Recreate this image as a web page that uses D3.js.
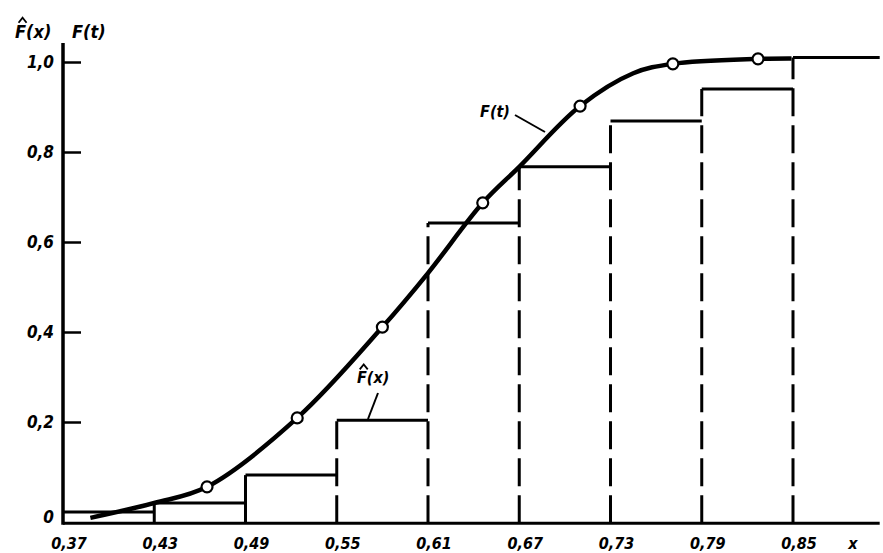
<!DOCTYPE html>
<html>
<head>
<meta charset="utf-8">
<script src="https://cdn.jsdelivr.net/npm/d3@7"></script>
<style>
  body { margin: 0; background: #fff; }
  svg text { font-family: "DejaVu Sans Condensed", "DejaVu Sans", sans-serif; font-weight: bold; font-style: italic; fill: #000; }
</style>
</head>
<body>
<svg width="883" height="553"></svg>
<script>
// interval edges of the empirical distribution (x axis ticks)
const edges = [0.37, 0.43, 0.49, 0.55, 0.61, 0.67, 0.73, 0.79, 0.85];
// F^(x) level on each interval, last one continues past 0.85
const stepLevels = [0.0, 0.02, 0.082, 0.204, 0.642, 0.767, 0.869, 0.94, 1.01];
// y ticks
const yTicks = [0, 0.2, 0.4, 0.6, 0.8, 1.0];

// smooth F(t) curve
const curveX = [0.388, 0.43, 0.4647, 0.524, 0.58, 0.61, 0.646, 0.67, 0.71, 0.745, 0.771, 0.827, 0.849];
const curveF = [-0.013, 0.02, 0.056, 0.209, 0.411, 0.531, 0.687, 0.767, 0.902, 0.975, 0.996, 1.007, 1.008];
// points marked with circles
const markX = [0.4647, 0.524, 0.58, 0.646, 0.71, 0.771, 0.827];
const markF = [0.056, 0.209, 0.411, 0.687, 0.902, 0.996, 1.007];

const xEnd = 0.907;     // right end of x axis
const baseF = -0.025;   // x axis sits a little under zero
const topF = 1.042;     // top of y axis

const svg = d3.select('svg');

const x = d3.scaleLinear().domain([0.37, 0.85]).range([63, 793]);
const y = d3.scaleLinear().domain([0, 1]).range([512, 62]);

const comma = f => s => f(s).replace('.', ',');

// axes lines
svg.append('line')
  .attr('x1', x(0.37)).attr('x2', x(0.37))
  .attr('y1', y(topF)).attr('y2', y(baseF) + 1.5)
  .attr('stroke', '#000').attr('stroke-width', 3.5);
svg.append('line')
  .attr('x1', x(0.37)).attr('x2', x(xEnd))
  .attr('y1', y(baseF)).attr('y2', y(baseF))
  .attr('stroke', '#000').attr('stroke-width', 3);

// y ticks point inward
const yAxis = svg.append('g')
  .attr('transform', `translate(${x(0.37)},0)`)
  .call(d3.axisRight(y).tickValues(yTicks.filter(d => d > 0)).tickSize(18).tickFormat(''));
yAxis.select('.domain').remove();
yAxis.selectAll('line').attr('stroke', '#000').attr('stroke-width', 2.5);

// y labels
const fmtY = comma(d3.format('.1f'));
svg.selectAll('.ylab').data(yTicks).join('text')
  .attr('class', 'ylab')
  .attr('x', 54)
  .attr('y', d => y(d) + (d === 0 ? 5 : 0))
  .attr('dy', '0.36em')
  .attr('text-anchor', 'end')
  .attr('font-size', 17)
  .text(d => d === 0 ? '0' : fmtY(d));

// x labels
const fmtX = comma(d3.format('.2f'));
svg.selectAll('.xlab').data(edges).join('text')
  .attr('class', 'xlab')
  .attr('x', d => x(d) + 6)
  .attr('y', 544)
  .attr('dy', '0.32em')
  .attr('text-anchor', 'middle')
  .attr('font-size', 16)
  .text(fmtX);
svg.append('text').attr('x', 853).attr('y', 544).attr('dy', '0.32em')
  .attr('text-anchor', 'middle').attr('font-size', 16).text('x');

// step function: horizontals
const nextEdge = i => i + 1 < edges.length ? edges[i + 1] : xEnd;
svg.selectAll('.stepH').data(stepLevels).join('line')
  .attr('class', 'stepH')
  .attr('x1', (d, i) => x(edges[i]))
  .attr('x2', (d, i) => x(nextEdge(i)))
  .attr('y1', d => y(d)).attr('y2', d => y(d))
  .attr('stroke', '#000').attr('stroke-width', 3);

// step function: verticals from axis up to the level, dashed from 0.55 on
svg.selectAll('.stepV').data(edges.slice(1)).join('line')
  .attr('class', 'stepV')
  .attr('x1', d => x(d)).attr('x2', d => x(d))
  .attr('y1', y(baseF))
  .attr('y2', (d, i) => y(stepLevels[i + 1]))
  .attr('stroke', '#000').attr('stroke-width', 3)
  .attr('stroke-dasharray', d => d >= 0.55 ? '28,9' : null);

// F(t) curve
const curveData = curveX.map((v, i) => [v, curveF[i]]);
svg.append('path')
  .datum(curveData)
  .attr('fill', 'none').attr('stroke', '#000').attr('stroke-width', 4.5)
  .attr('d', d3.line().x(d => x(d[0])).y(d => y(d[1])).curve(d3.curveCatmullRom.alpha(0.5)));

svg.selectAll('.mark').data(markX).join('circle')
  .attr('class', 'mark')
  .attr('cx', d => x(d))
  .attr('cy', (d, i) => y(markF[i]))
  .attr('r', 5.5)
  .attr('fill', '#fff').attr('stroke', '#000').attr('stroke-width', 2.2);

// annotations; the hat over F is a small drawn chevron
function hatLabel(lx, ly, txt, size) {
  svg.append('text').attr('x', lx).attr('y', ly).attr('font-size', size).text(txt);
  const hx = lx + size * 0.42, hy = ly - size * 0.85;
  svg.append('path')
    .attr('d', `M${hx - 4},${hy} L${hx},${hy - 5} L${hx + 4},${hy}`)
    .attr('fill', 'none').attr('stroke', '#000').attr('stroke-width', 1.8);
}

svg.append('text').attr('x', 495).attr('y', 117).attr('text-anchor', 'middle')
  .attr('font-size', 16).text('F(t)');
svg.append('line').attr('x1', 515).attr('y1', 115).attr('x2', 545).attr('y2', 132)
  .attr('stroke', '#000').attr('stroke-width', 2);

hatLabel(357, 383, 'F(x)', 16);
svg.append('line').attr('x1', 378).attr('y1', 393).attr('x2', 368).attr('y2', 419)
  .attr('stroke', '#000').attr('stroke-width', 2);

// y axis title
hatLabel(15, 38, 'F(x)', 18);
svg.append('text').attr('x', 72).attr('y', 38).attr('font-size', 18).text('F(t)');
</script>
</body>
</html>
